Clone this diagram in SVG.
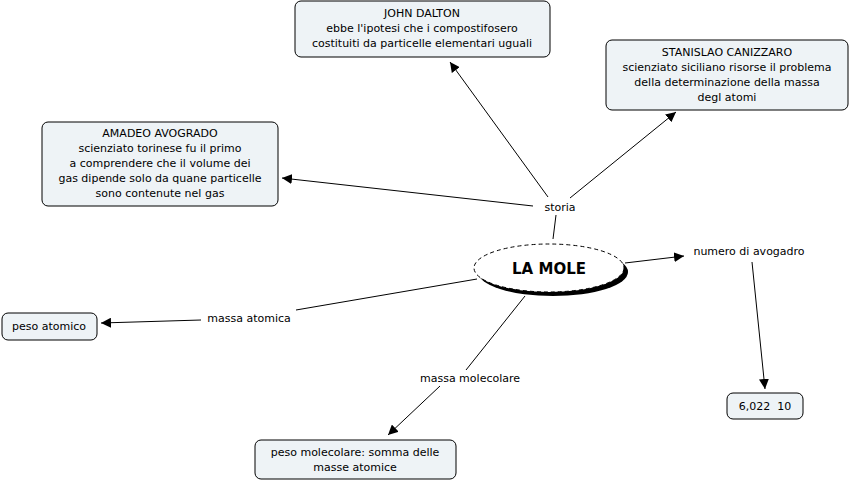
<svg xmlns="http://www.w3.org/2000/svg" width="852" height="482" viewBox="0 0 852 482">
<style>
text{font-family:"DejaVu Sans","Verdana",sans-serif;font-size:11px;fill:#000;text-anchor:middle}
.box{fill:#eef3f6;stroke:#000;stroke-width:1}
.c{stroke:#000;stroke-width:1;fill:none}
.a{stroke:#000;stroke-width:1;fill:none;marker-end:url(#ar)}
</style>
<defs><marker id="ar" viewBox="0 0 10 10" refX="10" refY="5" markerWidth="10" markerHeight="10" markerUnits="userSpaceOnUse" orient="auto"><path d="M0,0 L10,5 L0,10 z" fill="#000"/></marker></defs>
<rect width="852" height="482" fill="#fff"/>
<g id="connectors">
<line class="c" x1="553" y1="239" x2="556" y2="215"/>
<line class="a" x1="533" y1="206" x2="282" y2="178"/>
<line class="a" x1="548" y1="197" x2="450" y2="62"/>
<line class="a" x1="570" y1="198" x2="676" y2="112"/>
<line class="a" x1="625" y1="263" x2="684" y2="256"/>
<line class="a" x1="752" y1="262" x2="765" y2="389"/>
<line class="c" x1="477" y1="279" x2="296" y2="310"/>
<line class="a" x1="201" y1="320" x2="101" y2="323"/>
<line class="c" x1="525" y1="296" x2="466" y2="370"/>
<line class="a" x1="440" y1="386" x2="388" y2="435"/>
</g>
<g id="mole">
<ellipse cx="553" cy="272" rx="75" ry="24" fill="#000"/>
<ellipse cx="549" cy="268" rx="75" ry="24" fill="#fff" stroke="#000" stroke-dasharray="4,3"/>
<text x="549" y="274" style="font-size:15px;font-weight:bold">LA MOLE</text>
</g>
<g id="dalton"><rect class="box" x="295" y="1" width="255" height="56" rx="6"/>
<text x="422" y="17">JOHN DALTON</text><text x="422" y="32">ebbe l'ipotesi che i compostifosero</text><text x="422" y="47">costituiti da particelle elementari uguali</text></g>
<g id="canizzaro"><rect class="box" x="606" y="40" width="242" height="70" rx="6"/>
<text x="727" y="56">STANISLAO CANIZZARO</text><text x="727" y="71">scienziato siciliano risorse il problema</text><text x="727" y="86">della determinazione della massa</text><text x="727" y="101">degl atomi</text></g>
<g id="avogadro"><rect class="box" x="42" y="122" width="236" height="84" rx="6"/>
<text x="160" y="137">AMADEO AVOGRADO</text><text x="160" y="152">scienziato torinese fu il primo</text><text x="160" y="167">a comprendere che il volume dei</text><text x="160" y="182">gas dipende solo da quane particelle</text><text x="160" y="197">sono contenute nel gas</text></g>
<g id="storia"><text x="560" y="211">storia</text></g>
<g id="numero"><text x="749" y="255">numero di avogadro</text></g>
<g id="massaatomica"><text x="249" y="322">massa atomica</text></g>
<g id="massamolecolare"><text x="470" y="382">massa molecolare</text></g>
<g id="pesoatomico"><rect class="box" x="2" y="313" width="95" height="27" rx="6"/><text x="49" y="330">peso atomico</text></g>
<g id="pesomolecolare"><rect class="box" x="255" y="440" width="201" height="39" rx="6"/><text x="355" y="456">peso molecolare: somma delle</text><text x="355" y="471">masse atomice</text></g>
<g id="valore"><rect class="box" x="727" y="393" width="76" height="26" rx="6"/><text x="765" y="410" xml:space="preserve">6,022  10</text></g>
</svg>
